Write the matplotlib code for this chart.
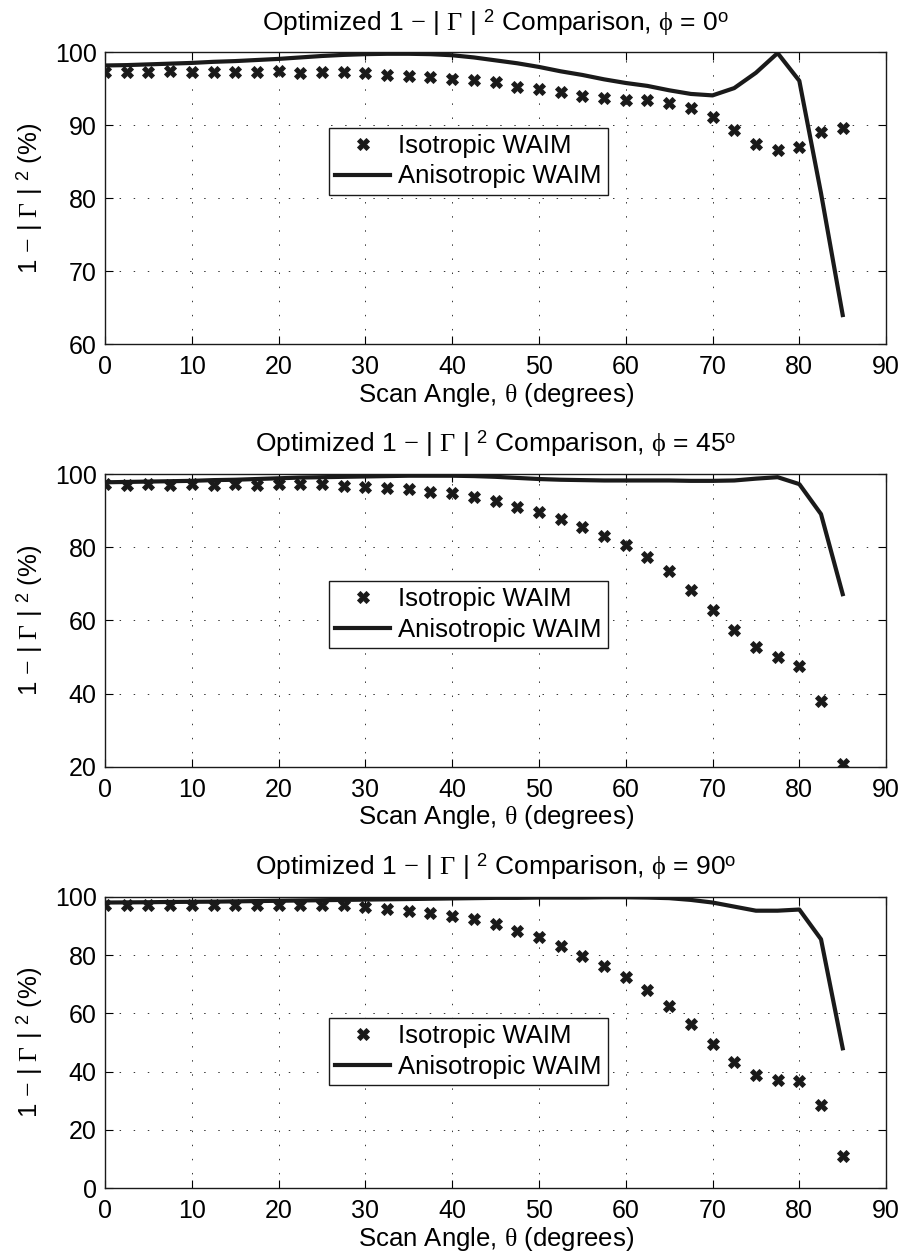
import matplotlib
matplotlib.use("Agg")
import matplotlib.pyplot as plt

plt.rcParams['font.family'] = ['Liberation Sans', 'DejaVu Sans']
plt.rcParams['mathtext.fontset'] = 'custom'
plt.rcParams['mathtext.rm'] = 'Liberation Serif'
plt.rcParams['mathtext.sf'] = 'Liberation Sans'
plt.rcParams['mathtext.it'] = 'Liberation Serif:italic'

theta = [0, 2.5, 5, 7.5, 10, 12.5, 15, 17.5, 20, 22.5, 25, 27.5, 30, 32.5, 35,
         37.5, 40, 42.5, 45, 47.5, 50, 52.5, 55, 57.5, 60, 62.5, 65, 67.5, 70,
         72.5, 75, 77.5, 80, 82.5, 85]

iso_phi0 = [97.3, 97.3, 97.3, 97.5, 97.35, 97.35, 97.35, 97.3, 97.5, 97.1, 97.35,
            97.3, 97.1, 96.9, 96.75, 96.6, 96.35, 96.2, 95.9, 95.3, 95.0, 94.5,
            94.0, 93.7, 93.5, 93.4, 93.0, 92.4, 91.2, 89.3, 87.4, 86.6, 87.0,
            89.1, 89.7]
aniso_phi0 = [98.2, 98.25, 98.35, 98.45, 98.55, 98.7, 98.8, 98.95, 99.1, 99.3,
              99.5, 99.65, 99.75, 99.8, 99.8, 99.75, 99.6, 99.3, 98.9, 98.5,
              98.0, 97.4, 96.9, 96.3, 95.8, 95.4, 94.8, 94.3, 94.1, 95.1, 97.2,
              99.9, 96.1, 80.7, 64.0]

iso_phi45 = [97.2, 97.1, 97.2, 97.1, 97.2, 97.1, 97.2, 97.1, 97.2, 97.3, 97.3,
             96.9, 96.6, 96.2, 95.9, 95.2, 94.8, 93.7, 92.7, 91.1, 89.6, 87.7,
             85.5, 83.2, 80.6, 77.3, 73.4, 68.3, 62.8, 57.4, 52.8, 50.1, 47.6,
             38.0, 20.7]
aniso_phi45 = [97.8, 97.9, 98.0, 98.1, 98.2, 98.4, 98.5, 98.7, 98.9, 99.1, 99.2,
               99.3, 99.4, 99.5, 99.6, 99.6, 99.6, 99.5, 99.3, 99.0, 98.7, 98.5,
               98.4, 98.3, 98.3, 98.3, 98.3, 98.2, 98.2, 98.3, 98.8, 99.2, 97.3,
               89.1, 67.2]

iso_phi90 = [97.0, 97.0, 97.0, 97.0, 97.0, 97.0, 97.0, 97.0, 97.0, 97.0, 97.0,
             97.0, 96.4, 95.8, 95.2, 94.5, 93.5, 92.2, 90.6, 88.4, 86.1, 83.1,
             79.8, 76.4, 72.6, 68.0, 62.6, 56.2, 49.5, 43.2, 38.9, 37.2, 36.9,
             28.4, 10.9]
aniso_phi90 = [98.0, 98.05, 98.1, 98.2, 98.25, 98.3, 98.4, 98.5, 98.6, 98.7, 98.8,
               98.9, 99.0, 99.1, 99.2, 99.3, 99.4, 99.5, 99.6, 99.6, 99.7, 99.7,
               99.7, 99.8, 99.8, 99.7, 99.5, 98.9, 98.0, 96.6, 95.2, 95.2, 95.6,
               85.4, 48.0]

phis = ['0', '45', '90']
iso_sets = [iso_phi0, iso_phi45, iso_phi90]
aniso_sets = [aniso_phi0, aniso_phi45, aniso_phi90]
ylims = [(60, 100), (20, 100), (0, 100)]
ytick_sets = [[60, 70, 80, 90, 100], [20, 40, 60, 80, 100], [0, 20, 40, 60, 80, 100]]
xticks = [0, 10, 20, 30, 40, 50, 60, 70, 80, 90]
legend_labels = ['Isotropic WAIM', 'Anisotropic WAIM']

fig = plt.figure(figsize=(9.04, 12.55), dpi=100)
rects = [(0.1162, 0.7257, 0.864, 0.2326),
         (0.1162, 0.3891, 0.864, 0.2330),
         (0.1162, 0.0532, 0.864, 0.2323)]
leg_anchor = [(0.2864, 0.742), (0.2864, 0.635), (0.2864, 0.585)]

ink = '#1a1a1a'
FS_TICK = 18
FS_LAB = 18.5
gamma_term = r'1 $-$ | $\Gamma$ | $^{\mathsf{2}}$'

for i in range(3):
    ax = fig.add_axes(rects[i])
    ax.plot(theta, iso_sets[i], linestyle='none', marker='X', markersize=8.5,
            color=ink, markeredgewidth=0.6, label=legend_labels[0])
    ax.plot(theta, aniso_sets[i], '-', color=ink, lw=3.0, label=legend_labels[1])
    ax.set_xlim(0, 90)
    ax.set_ylim(*ylims[i])
    ax.set_xticks(xticks)
    ax.set_yticks(ytick_sets[i])
    ax.grid(True, color='#333333', linestyle=(0, (1.5, 13)), lw=0.7)
    ax.tick_params(direction='in', top=True, right=True, length=6, width=0.8,
                   labelsize=FS_TICK, pad=6)
    ax.tick_params(axis='x', pad=8)
    for s in ax.spines.values():
        s.set_linewidth(1.0)
        s.set_color(ink)
    ax.set_xlabel(r'Scan Angle, $\mathrm{\theta}$ (degrees)', fontsize=FS_LAB, labelpad=1)
    ax.set_ylabel(gamma_term + ' (%)', fontsize=FS_LAB, labelpad=7)
    ax.set_title('Optimized ' + gamma_term + r' Comparison, $\mathrm{\phi}$ = '
                 + phis[i] + r'$^{\mathsf{o}}$', fontsize=19, pad=16)
    leg = ax.legend(loc='upper left', bbox_to_anchor=leg_anchor[i], fontsize=18.5,
                    numpoints=1, fancybox=False, framealpha=1, edgecolor=ink,
                    borderpad=0.25, labelspacing=0.25, handlelength=2.15,
                    handletextpad=0.28, borderaxespad=0)
    leg.get_frame().set_linewidth(1.0)

fig.savefig('out.png', dpi=100)
